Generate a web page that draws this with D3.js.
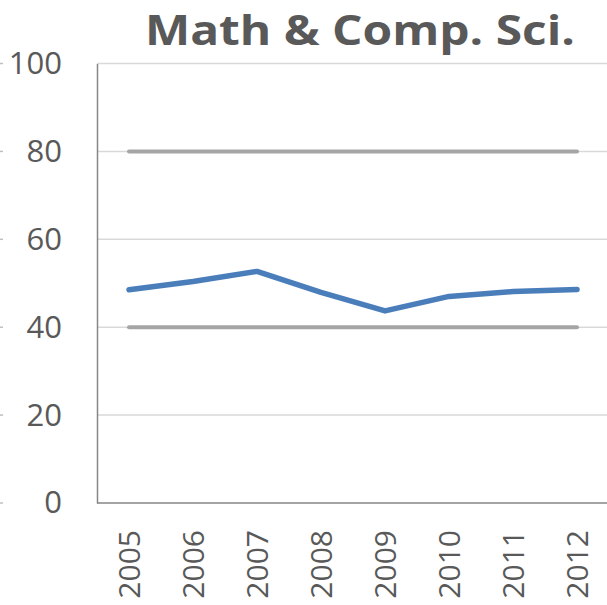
<!DOCTYPE html>
<html>
<head>
<meta charset="utf-8">
<script src="https://cdn.jsdelivr.net/npm/d3@7"></script>
<style>
  body { margin: 0; background: #fff; }
  svg { display: block; }
</style>
</head>
<body>
<svg width="607" height="605"></svg>
<script>
const years = ['2005', '2006', '2007', '2008', '2009', '2010', '2011', '2012'];
const mathCompSci = [48.5, 50.4, 52.7, 47.9, 43.7, 47.0, 48.1, 48.6];
const lowerRef = [40, 40, 40, 40, 40, 40, 40, 40];
const upperRef = [80, 80, 80, 80, 80, 80, 80, 80];
const yTicks = [0, 20, 40, 60, 80, 100];
const chartTitle = 'Math & Comp. Sci.';

const svg = d3.select('svg');
const plotLeft = 97, plotRight = 609, plotTop = 63.5, plotBottom = 503;

const x = d3.scaleBand().domain(years).range([plotLeft, plotRight]);
const y = d3.scaleLinear().domain([0, 100]).range([plotBottom, plotTop]);

// gridlines
svg.append('g')
  .selectAll('line')
  .data(yTicks.filter(d => d > 0))
  .join('line')
  .attr('x1', plotLeft).attr('x2', 607)
  .attr('y1', d => y(d)).attr('y2', d => y(d))
  .attr('stroke', '#d9d9d9').attr('stroke-width', 1.5);

// stray tick marks at the left edge
svg.append('g')
  .selectAll('line')
  .data(yTicks)
  .join('line')
  .attr('x1', 0).attr('x2', 3)
  .attr('y1', d => y(d)).attr('y2', d => y(d))
  .attr('stroke', '#bfbfbf').attr('stroke-width', 1.5);

// axes
const yAxis = svg.append('g')
  .attr('transform', `translate(${plotLeft},0)`)
  .call(d3.axisLeft(y).tickValues(yTicks).tickSize(0).tickPadding(35));
yAxis.select('.domain').attr('stroke', '#868686').attr('stroke-width', 1.5);
yAxis.selectAll('text')
  .attr('font-family', 'Open Sans').attr('font-size', 31).attr('fill', '#595959')
  .attr('dy', '0.32em');

const xAxis = svg.append('g')
  .attr('transform', `translate(0,${plotBottom})`)
  .call(d3.axisBottom(x).tickSize(0));
xAxis.select('.domain').attr('d', `M${plotLeft},0H607`).attr('stroke', '#868686').attr('stroke-width', 1.5);
xAxis.selectAll('text')
  .attr('font-family', 'Open Sans').attr('font-size', 30).attr('fill', '#595959')
  .attr('transform', 'rotate(-90)')
  .attr('text-anchor', 'end')
  .attr('x', -27).attr('y', 0).attr('dy', '0.35em');

const line = d3.line()
  .x((d, i) => x(years[i]) + x.bandwidth() / 2)
  .y(d => y(d));

[lowerRef, upperRef].forEach(ref => {
  svg.append('path')
    .datum(ref)
    .attr('d', line)
    .attr('fill', 'none')
    .attr('stroke', '#a5a5a5')
    .attr('stroke-width', 4)
    .attr('stroke-linecap', 'round');
});

svg.append('path')
  .datum(mathCompSci)
  .attr('d', line)
  .attr('fill', 'none')
  .attr('stroke', '#4a7ebb')
  .attr('stroke-width', 5.5)
  .attr('stroke-linecap', 'round')
  .attr('stroke-linejoin', 'round');

// title, stretched a bit to the width of the wide Calibri original
const title = svg.append('text')
  .attr('font-family', 'Open Sans').attr('font-weight', 'bold')
  .attr('font-size', 42).attr('fill', '#595959')
  .text(chartTitle);
const tw = title.node().getComputedTextLength();
title.attr('transform', `translate(145,45) scale(${430 / tw},1)`);
</script>
</body>
</html>
